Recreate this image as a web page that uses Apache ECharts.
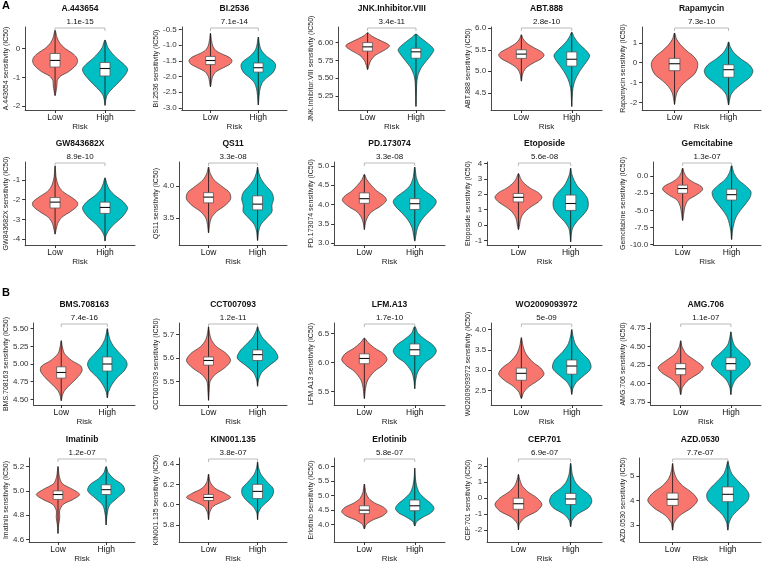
<!DOCTYPE html>
<html>
<head>
<meta charset="utf-8">
<script src="https://cdn.jsdelivr.net/npm/echarts@6/dist/echarts.min.js"></script>
<style>
html, body { margin: 0; padding: 0; background: #fff; }
#main { width: 784px; height: 568px; }
</style>
</head>
<body>
<div id="main"></div>
<script>
const groups = ['Low', 'High']
const drugs = ['A.443654', 'BI.2536', 'JNK.Inhibitor.VIII', 'ABT.888', 'Rapamycin',
    'GW843682X', 'QS11', 'PD.173074', 'Etoposide', 'Gemcitabine',
    'BMS.708163', 'CCT007093', 'LFM.A13', 'WO2009093972', 'AMG.706',
    'Imatinib', 'KIN001.135', 'Erlotinib', 'CEP.701', 'AZD.0530']
const pValues = ['1.1e-15', '7.1e-14', '3.4e-11', '2.8e-10', '7.3e-10',
    '8.9e-10', '3.3e-08', '3.3e-08', '5.6e-08', '1.3e-07',
    '7.4e-16', '1.2e-11', '1.7e-10', '5e-09', '1.1e-07',
    '1.2e-07', '3.8e-07', '5.8e-07', '6.9e-07', '7.7e-07']

// y range of every panel
const yRanges = [
    [-2.13, 0.75], [-3.07, -0.42], [5.05, 6.22], [4.1, 6.03], [-2.38, 1.8],
    [-4.3, -0.1], [3.08, 4.38], [2.95, 5.1], [-1.3, 4.1], [-10.1, 2.1],
    [4.42, 5.58], [5.4, 5.75], [5.27, 6.68], [2.14, 4.16], [3.71, 4.82],
    [4.58, 5.27], [5.63, 6.46], [3.4, 6.3], [-2.76, 2.53], [2.32, 5.72]
]
const yTicks = [
    [-2, -1, 0], [-3, -2.5, -2, -1.5, -1, -0.5], [5.25, 5.5, 5.75, 6], [4.5, 5, 5.5, 6], [-2, -1, 0, 1],
    [-4, -3, -2, -1], [3.5, 4], [3, 3.5, 4, 4.5, 5], [-1, 0, 1, 2, 3, 4], [-10, -7.5, -5, -2.5, 0],
    [4.5, 4.75, 5, 5.25, 5.5], [5.5, 5.6, 5.7], [5.5, 6, 6.5], [2.5, 3, 3.5, 4], [3.75, 4, 4.25, 4.5, 4.75],
    [4.6, 4.8, 5, 5.2], [5.8, 6, 6.2, 6.4], [4, 4.5, 5, 5.5, 6], [-2, -1, 0, 1, 2], [3, 4, 5]
]
const tickDigits = [0, 1, 2, 1, 0, 0, 1, 1, 0, 1, 2, 1, 1, 1, 2, 1, 1, 1, 0, 0]

// violin outlines: [value, relative half width], bottom to top
const lowViolins = [
    [[-1.63, 0], [-1.45, 0.05], [-1.3, 0.08], [-1.1, 0.1], [-0.95, 0.25], [-0.8, 0.6], [-0.6, 0.9], [-0.45, 1], [-0.3, 0.95], [-0.15, 0.75], [0, 0.45], [0.2, 0.2], [0.4, 0.08], [0.64, 0]],
    [[-2.33, 0], [-2.15, 0.05], [-2, 0.1], [-1.85, 0.25], [-1.72, 0.6], [-1.6, 0.92], [-1.5, 1], [-1.4, 0.9], [-1.3, 0.6], [-1.2, 0.3], [-1.05, 0.12], [-0.85, 0.05], [-0.62, 0]],
    [[5.62, 0], [5.68, 0.06], [5.75, 0.15], [5.82, 0.35], [5.88, 0.7], [5.93, 0.95], [5.96, 1], [6, 0.8], [6.05, 0.45], [6.1, 0.15], [6.14, 0]],
    [[4.77, 0], [4.9, 0.04], [5, 0.1], [5.1, 0.25], [5.2, 0.55], [5.3, 0.9], [5.38, 1], [5.45, 0.9], [5.55, 0.55], [5.65, 0.25], [5.75, 0.08], [5.85, 0]],
    [[-2.1, 0], [-1.8, 0.04], [-1.5, 0.1], [-1.2, 0.25], [-0.9, 0.5], [-0.6, 0.8], [-0.3, 0.93], [0, 0.95], [0.3, 0.8], [0.6, 0.5], [0.9, 0.25], [1.2, 0.08], [1.5, 0]],
    [[-3.75, 0], [-3.5, 0.05], [-3.2, 0.12], [-2.9, 0.3], [-2.6, 0.7], [-2.35, 0.97], [-2.15, 1], [-1.9, 0.75], [-1.6, 0.35], [-1.3, 0.15], [-0.9, 0.05], [-0.3, 0]],
    [[3.27, 0], [3.4, 0.05], [3.5, 0.12], [3.6, 0.35], [3.7, 0.75], [3.8, 1], [3.9, 0.95], [4, 0.6], [4.1, 0.25], [4.2, 0.08], [4.3, 0]],
    [[3.35, 0], [3.5, 0.04], [3.65, 0.12], [3.8, 0.3], [3.95, 0.7], [4.1, 0.97], [4.2, 0.9], [4.35, 0.55], [4.5, 0.3], [4.65, 0.1], [4.78, 0]],
    [[-0.3, 0], [0, 0.05], [0.3, 0.08], [0.6, 0.15], [0.9, 0.3], [1.2, 0.55], [1.5, 0.85], [1.8, 1], [2.1, 0.85], [2.4, 0.5], [2.7, 0.25], [3, 0.1], [3.35, 0]],
    [[-6.5, 0], [-5.5, 0.05], [-4.5, 0.1], [-3.5, 0.25], [-2.8, 0.6], [-2, 0.9], [-1.5, 0.85], [-0.8, 0.45], [-0.2, 0.2], [0.5, 0.07], [1.2, 0]],
    [[4.48, 0], [4.55, 0.05], [4.62, 0.15], [4.7, 0.4], [4.8, 0.75], [4.9, 1], [4.97, 0.95], [5.05, 0.5], [5.15, 0.15], [5.25, 0.05], [5.33, 0]],
    [[5.42, 0], [5.46, 0.03], [5.5, 0.07], [5.53, 0.3], [5.56, 0.75], [5.59, 1], [5.62, 0.8], [5.65, 0.35], [5.68, 0.12], [5.71, 0.04], [5.735, 0]],
    [[5.38, 0], [5.55, 0.05], [5.7, 0.15], [5.85, 0.45], [5.95, 0.8], [6.05, 1], [6.15, 0.85], [6.25, 0.45], [6.35, 0.15], [6.42, 0]],
    [[2.3, 0], [2.45, 0.1], [2.6, 0.35], [2.75, 0.75], [2.9, 1], [3.05, 0.85], [3.2, 0.5], [3.4, 0.2], [3.6, 0.07], [3.8, 0]],
    [[3.85, 0], [3.95, 0.08], [4.05, 0.35], [4.15, 0.85], [4.22, 1], [4.3, 0.7], [4.4, 0.25], [4.5, 0.06], [4.58, 0]],
    [[4.65, 0], [4.72, 0.03], [4.78, 0.08], [4.84, 0.08], [4.89, 0.25], [4.93, 0.7], [4.97, 1], [5.01, 0.7], [5.06, 0.2], [5.12, 0.06], [5.2, 0]],
    [[5.85, 0], [5.92, 0.05], [5.98, 0.2], [6.03, 0.65], [6.07, 1], [6.11, 0.75], [6.16, 0.3], [6.22, 0.08], [6.3, 0]],
    [[3.85, 0], [4, 0.08], [4.15, 0.35], [4.3, 0.8], [4.45, 1], [4.6, 0.85], [4.75, 0.45], [4.9, 0.2], [5.1, 0.07], [5.4, 0]],
    [[-2, 0], [-1.6, 0.05], [-1.2, 0.3], [-0.8, 0.8], [-0.4, 1], [0, 0.8], [0.4, 0.4], [0.8, 0.15], [1.2, 0.05], [1.5, 0]],
    [[2.8, 0], [3.1, 0.06], [3.4, 0.3], [3.7, 0.75], [4, 1], [4.3, 0.8], [4.6, 0.4], [4.9, 0.15], [5.2, 0.05], [5.5, 0]]
]
const highViolins = [
    [[-1.97, 0], [-1.75, 0.04], [-1.6, 0.1], [-1.45, 0.25], [-1.25, 0.5], [-1.05, 0.75], [-0.85, 0.95], [-0.7, 1], [-0.55, 0.85], [-0.35, 0.55], [-0.15, 0.3], [0.05, 0.12], [0.3, 0]],
    [[-2.91, 0], [-2.6, 0.04], [-2.4, 0.08], [-2.2, 0.18], [-2.05, 0.38], [-1.9, 0.65], [-1.75, 0.78], [-1.62, 0.8], [-1.5, 0.68], [-1.35, 0.38], [-1.15, 0.13], [-0.95, 0.05], [-0.74, 0]],
    [[5.1, 0], [5.3, 0.02], [5.45, 0.04], [5.55, 0.1], [5.65, 0.25], [5.75, 0.5], [5.85, 0.75], [5.9, 0.82], [5.95, 0.7], [6.02, 0.42], [6.08, 0.16], [6.12, 0]],
    [[4.18, 0], [4.4, 0.02], [4.6, 0.05], [4.8, 0.15], [5, 0.35], [5.15, 0.55], [5.3, 0.75], [5.38, 0.78], [5.5, 0.6], [5.65, 0.3], [5.8, 0.1], [5.91, 0]],
    [[-2.13, 0], [-1.9, 0.04], [-1.6, 0.1], [-1.3, 0.3], [-1, 0.6], [-0.7, 0.9], [-0.4, 1], [-0.1, 0.85], [0.2, 0.5], [0.5, 0.22], [0.8, 0.07], [1.05, 0]],
    [[-4.1, 0], [-3.8, 0.05], [-3.5, 0.2], [-3.2, 0.45], [-2.9, 0.75], [-2.6, 0.95], [-2.4, 1], [-2.1, 0.8], [-1.8, 0.45], [-1.5, 0.2], [-1.2, 0.08], [-0.9, 0]],
    [[3.15, 0], [3.3, 0.05], [3.4, 0.15], [3.5, 0.4], [3.6, 0.65], [3.7, 0.65], [3.8, 0.72], [3.9, 0.65], [4, 0.4], [4.1, 0.18], [4.2, 0.06], [4.3, 0]],
    [[3.05, 0], [3.2, 0.05], [3.4, 0.12], [3.6, 0.3], [3.8, 0.6], [3.95, 0.85], [4.08, 0.95], [4.2, 0.8], [4.35, 0.45], [4.5, 0.2], [4.7, 0.07], [4.97, 0]],
    [[-1.1, 0], [-0.6, 0.03], [-0.2, 0.08], [0.2, 0.25], [0.6, 0.5], [1, 0.7], [1.3, 0.75], [1.7, 0.72], [2.1, 0.55], [2.5, 0.3], [2.9, 0.15], [3.3, 0.05], [3.7, 0]],
    [[-9.3, 0], [-8, 0.04], [-7, 0.1], [-6, 0.2], [-5, 0.4], [-4, 0.65], [-3, 0.85], [-2.2, 0.87], [-1.3, 0.6], [-0.5, 0.3], [0.5, 0.1], [1.6, 0]],
    [[4.52, 0], [4.6, 0.05], [4.7, 0.2], [4.8, 0.45], [4.9, 0.8], [4.98, 0.95], [5.05, 0.9], [5.15, 0.6], [5.25, 0.3], [5.35, 0.12], [5.45, 0.04], [5.5, 0]],
    [[5.48, 0], [5.51, 0.05], [5.54, 0.2], [5.57, 0.55], [5.6, 0.92], [5.63, 0.8], [5.66, 0.5], [5.69, 0.2], [5.72, 0.05], [5.735, 0]],
    [[5.55, 0], [5.7, 0.04], [5.85, 0.15], [6, 0.45], [6.1, 0.8], [6.2, 0.95], [6.3, 0.8], [6.4, 0.45], [6.5, 0.15], [6.62, 0]],
    [[2.4, 0], [2.55, 0.05], [2.7, 0.2], [2.85, 0.5], [3, 0.8], [3.1, 0.85], [3.25, 0.75], [3.45, 0.4], [3.65, 0.15], [3.85, 0.05], [4, 0]],
    [[3.85, 0], [3.95, 0.05], [4.05, 0.2], [4.15, 0.55], [4.25, 0.85], [4.32, 0.8], [4.42, 0.45], [4.52, 0.15], [4.62, 0.05], [4.7, 0]],
    [[4.72, 0], [4.8, 0.04], [4.88, 0.15], [4.94, 0.5], [5, 0.85], [5.05, 0.75], [5.1, 0.35], [5.15, 0.1], [5.2, 0]],
    [[5.85, 0], [5.92, 0.04], [5.98, 0.2], [6.04, 0.5], [6.1, 0.7], [6.16, 0.7], [6.22, 0.45], [6.3, 0.15], [6.36, 0.05], [6.42, 0]],
    [[3.95, 0], [4.1, 0.08], [4.25, 0.35], [4.4, 0.7], [4.55, 0.85], [4.7, 0.75], [4.9, 0.45], [5.1, 0.2], [5.35, 0.08], [5.6, 0.03], [5.95, 0]],
    [[-1.8, 0], [-1.4, 0.06], [-1, 0.3], [-0.6, 0.75], [-0.2, 0.9], [0.2, 0.8], [0.6, 0.45], [1, 0.2], [1.5, 0.07], [2.2, 0]],
    [[2.8, 0], [3.1, 0.05], [3.4, 0.2], [3.7, 0.5], [4, 0.8], [4.25, 0.85], [4.5, 0.7], [4.8, 0.4], [5.1, 0.15], [5.4, 0.05], [5.6, 0]]
]
// boxes: [q1, median, q3]
const lowBoxes = [
    [-0.64, -0.41, -0.17], [-1.62, -1.49, -1.36], [5.88, 5.94, 6.0], [5.3, 5.4, 5.5], [-0.4, -0.05, 0.22],
    [-2.43, -2.13, -1.9], [3.74, 3.83, 3.9], [4.03, 4.15, 4.3], [1.5, 1.8, 2.05], [-2.5, -1.8, -1.3],
    [4.8, 4.88, 4.96], [5.57, 5.59, 5.605], [5.98, 6.07, 6.15], [2.75, 2.92, 3.05], [4.12, 4.2, 4.27],
    [4.93, 4.97, 5.0], [6.04, 6.07, 6.1], [4.38, 4.5, 4.65], [-0.7, -0.35, 0], [3.8, 4.05, 4.3]
]
const highBoxes = [
    [-0.95, -0.69, -0.48], [-1.86, -1.72, -1.57], [5.78, 5.87, 5.92], [5.12, 5.28, 5.45], [-0.73, -0.35, -0.1],
    [-2.7, -2.4, -2.13], [3.63, 3.72, 3.85], [3.87, 4.02, 4.15], [0.95, 1.4, 1.95], [-3.5, -2.7, -1.9],
    [4.9, 5.0, 5.1], [5.59, 5.615, 5.635], [6.12, 6.22, 6.32], [2.9, 3.1, 3.25], [4.18, 4.27, 4.35],
    [4.97, 5.01, 5.05], [6.06, 6.13, 6.2], [4.48, 4.65, 4.85], [-0.4, -0.05, 0.3], [3.95, 4.25, 4.55]
]

const fillColors = ['#F8766D', '#00BFC4']
const font = '"Liberation Sans", Arial, sans-serif'

const nameX = [7, 157, 312, 469, 624]
const rightX = [135, 287, 445, 602, 761]
const rowTop = [27, 162, 323, 458]
const rowBottom = [110, 245, 405, 542]

const chart = echarts.init(document.getElementById('main'))
const ctx = document.createElement('canvas').getContext('2d')
ctx.font = '8px ' + font

const grids = []
const xAxes = []
const yAxes = []
const series = []
const graphics = [
    { type: 'text', x: 2, y: 0, style: { text: 'A', fontSize: 11, fontWeight: 'bold', fontFamily: font, fill: '#000' } },
    { type: 'text', x: 2, y: 287, style: { text: 'B', fontSize: 11, fontWeight: 'bold', fontFamily: font, fill: '#000' } }
]

const violinItem = (i) => (params, api) => {
    const g = params.dataIndex
    const shape = g === 0 ? lowViolins[i] : highViolins[i]
    const box = g === 0 ? lowBoxes[i] : highBoxes[i]
    const pos = g + 1
    const cx = api.coord([pos, shape[0][0]])[0]
    const half = api.size([0.45, 0])[0]
    const bw = api.size([0.2, 0])[0]
    const right = []
    const left = []
    shape.forEach(([v, w]) => {
        const y = api.coord([pos, v])[1]
        right.push([cx + w * half, y])
        if (w > 0) left.unshift([cx - w * half, y])
    })
    const yBot = api.coord([pos, shape[0][0]])[1]
    const yTop = api.coord([pos, shape[shape.length - 1][0]])[1]
    const y1 = api.coord([pos, box[0]])[1]
    const ym = api.coord([pos, box[1]])[1]
    const y3 = api.coord([pos, box[2]])[1]
    return {
        type: 'group',
        children: [
            { type: 'polygon', shape: { points: right.concat(left), smooth: 0.3 }, style: { fill: fillColors[g], stroke: '#333', lineWidth: 0.7 } },
            { type: 'line', shape: { x1: cx, y1: yBot, x2: cx, y2: yTop }, style: { stroke: '#111', lineWidth: 0.8 } },
            { type: 'rect', shape: { x: cx - bw / 2, y: y3, width: bw, height: y1 - y3 }, style: { fill: '#fff', stroke: '#555', lineWidth: 0.8 } },
            { type: 'line', shape: { x1: cx - bw / 2, y1: ym, x2: cx + bw / 2, y2: ym }, style: { stroke: '#111', lineWidth: 1.1 } }
        ]
    }
}

const bracketItem = (i) => (params, api) => {
    const top = yRanges[i][1]
    const [x0, y] = api.coord([1, top])
    const x1 = api.coord([2, top])[0]
    const yb = y + 1
    return {
        type: 'group',
        children: [
            { type: 'polyline', shape: { points: [[x0, yb + 3], [x0, yb], [x1, yb], [x1, yb + 3]] }, style: { stroke: '#aaa', lineWidth: 0.8, fill: null } },
            { type: 'text', x: (x0 + x1) / 2, y: yb - 2, style: { text: pValues[i], fontSize: 8, fontFamily: font, fill: '#111', align: 'center', textAlign: 'center', verticalAlign: 'bottom', textVerticalAlign: 'bottom' } }
        ]
    }
}

drugs.forEach((drug, i) => {
    const row = Math.floor(i / 5)
    const col = i % 5
    const labels = yTicks[i].map(v => v.toFixed(tickDigits[i]))
    const labelW = Math.max(...labels.map(t => ctx.measureText(t).width))
    const left = nameX[col] + 5 + labelW + 6
    const width = rightX[col] - left
    grids.push({ left, top: rowTop[row], width, height: rowBottom[row] - rowTop[row] })

    graphics.push({
        type: 'text', x: left + width / 2, y: rowTop[row] - 18,
        style: { text: drug, fontSize: 8.5, fontWeight: 'bold', fontFamily: font, fill: '#111', align: 'center', textAlign: 'center', verticalAlign: 'middle', textVerticalAlign: 'middle' }
    })

    xAxes.push({
        gridIndex: i,
        type: 'value',
        min: 0.4,
        max: 2.6,
        splitLine: { show: false },
        axisLine: { show: true, onZero: false, lineStyle: { color: '#333', width: 0.9 } },
        axisTick: { show: true, length: 3, customValues: [1, 2], lineStyle: { color: '#333' } },
        axisLabel: { customValues: [1, 2], formatter: v => groups[Math.round(v) - 1], fontSize: 8.5, color: '#111', fontFamily: font, margin: 3 },
        name: 'Risk',
        nameLocation: 'middle',
        nameGap: 13,
        nameTextStyle: { fontSize: 8, color: '#222', fontFamily: font }
    })
    yAxes.push({
        gridIndex: i,
        type: 'value',
        min: yRanges[i][0],
        max: yRanges[i][1],
        splitLine: { show: false },
        axisLine: { show: true, onZero: false, lineStyle: { color: '#333', width: 0.9 } },
        axisTick: { show: true, length: 3, customValues: yTicks[i], lineStyle: { color: '#333' } },
        axisLabel: { customValues: yTicks[i], formatter: v => v.toFixed(tickDigits[i]), fontSize: 8, color: '#333', fontFamily: font, margin: 5 },
        name: drug + ' sensitivity (IC50)',
        nameLocation: 'middle',
        nameGap: left - nameX[col] - 3,
        nameTextStyle: { fontSize: 7, color: '#222', fontFamily: font }
    })

    series.push({
        type: 'custom',
        xAxisIndex: i,
        yAxisIndex: i,
        renderItem: violinItem(i),
        data: [[1, yRanges[i][0]], [2, yRanges[i][0]]],
        silent: true
    })
    series.push({
        type: 'custom',
        xAxisIndex: i,
        yAxisIndex: i,
        renderItem: bracketItem(i),
        data: [[1, yRanges[i][1]]],
        silent: true
    })
})

const option = {
    animation: false,
    backgroundColor: '#fff',
    grid: grids,
    xAxis: xAxes,
    yAxis: yAxes,
    series,
    graphic: graphics
}

option && chart.setOption(option)
</script>
</body>
</html>
